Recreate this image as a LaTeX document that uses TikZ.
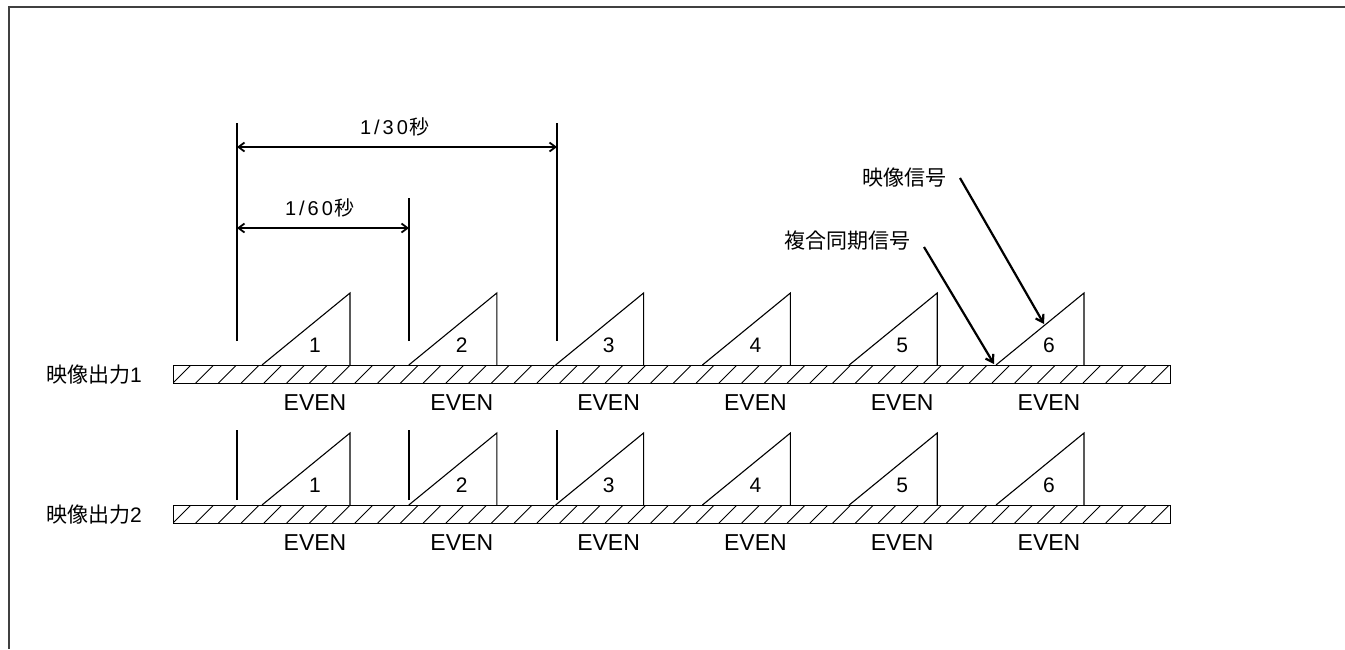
\documentclass[tikz,border=0pt]{standalone}
\usepackage{fontspec}
\setmainfont{Liberation Sans}
\newfontfamily\cjk{Noto Sans CJK JP}
\usetikzlibrary{arrows.meta}
\tikzset{
  frameline/.style={draw=black!75, line width=2pt},
  thin/.style={draw=black, line width=1.1pt},
  hatchline/.style={draw=black, line width=1pt},
  dimarrow/.style={draw=black, line width=1.8pt, {Straight Barb[length=6pt,width=9pt]}-{Straight Barb[length=6pt,width=9pt]}},
  sigarrow/.style={draw=black, line width=2.2pt, -{Straight Barb[length=7pt,width=9pt]}},
  numtxt/.style={inner sep=0pt, font=\fontsize{21}{24}\selectfont},
  eventxt/.style={inner sep=0pt, font=\fontsize{23}{26}\selectfont},
  cjktxt/.style={inner sep=0pt, font=\fontsize{21}{24}\selectfont\cjk},
  dimtxt/.style={inner sep=0pt, font=\fontsize{20}{24}\selectfont},
}
\begin{document}
\begin{tikzpicture}[x=1pt,y=-1pt]
\useasboundingbox (0,0) rectangle (1345,649);
% frame (top and left)
\draw[frameline] (1345,7) -- (8.5,7) -- (8.5,649);

% two hatched bars with triangles
\foreach \r/\by in {1/365,2/505}{
  \begin{scope}
    \clip (173,\by) rectangle (1170,{\by+18});
    \foreach \i in {-1,...,44}{
      \draw[hatchline] ({173+\i*22.75},{\by+18}) -- ++(18,-18);
    }
  \end{scope}
  \node[draw=black, line width=1.1pt, minimum width=997pt, minimum height=18pt, inner sep=0pt, anchor=north west] (bar\r) at (173,\by) {};
  \foreach \k in {0,...,5}{
    \pgfmathsetmacro{\rx}{350+\k*146.8}
    \pgfmathtruncatemacro{\kk}{\k+1}
    \draw[thin] ({\rx-88},\by) -- (\rx,{\by-72}) -- (\rx,\by);
    \coordinate (t\r\kk) at ({\rx-88},\by);
    \node[numtxt] (n\r\kk) at ({\rx-35},{\by-20}) {\kk};
    \node[eventxt] (e\r\kk) at ({\rx-35},{\by+38}) {EVEN};
  }
}

% row labels
\node[cjktxt] (lab1) at (94,375) {映像出力\rmfamily 1};
\node[cjktxt] (lab2) at (94,515) {映像出力\rmfamily 2};

% vertical marker lines, row 1
\coordinate (v1b) at (237,341); \coordinate (v1t) at (237,123);
\coordinate (v2b) at (409,341); \coordinate (v2t) at (409,198);
\coordinate (v3b) at (557,341); \coordinate (v3t) at (557,123);
\draw[thin] (v1b) -- (v1t);
\draw[thin] (v2b) -- (v2t);
\draw[thin] (v3b) -- (v3t);
% vertical marker lines, row 2
\coordinate (w1b) at (237,500); \coordinate (w1t) at (237,430);
\coordinate (w2b) at (409,500); \coordinate (w2t) at (409,430);
\coordinate (w3b) at (557,500); \coordinate (w3t) at (557,430);
\draw[thin] (w1b) -- (w1t);
\draw[thin] (w2b) -- (w2t);
\draw[thin] (w3b) -- (w3t);

% dimension arrows
\coordinate (d30l) at (237,147); \coordinate (d30r) at (557,147);
\coordinate (d60l) at (237,228); \coordinate (d60r) at (409,228);
\draw[dimarrow] (d30l) -- (d30r);
\draw[dimarrow] (d60l) -- (d60r);
\node[dimtxt] (l30) at (395,127) {1\hspace{3pt}/\hspace{3pt}3\hspace{3pt}0\hspace{2pt}{\cjk 秒}};
\node[dimtxt] (l60) at (320,208) {1\hspace{3pt}/\hspace{3pt}6\hspace{3pt}0\hspace{2pt}{\cjk 秒}};

% signal labels and arrows
\node[cjktxt] (sig) at (904,178) {映像信号};
\node[cjktxt] (sync) at (847,241) {複合同期信号};
\coordinate (sigs) at (960,178);
\coordinate (sige) at (1044,324);
\coordinate (syncs) at (924,247);
\coordinate (synce) at (994,364);
\draw[sigarrow] (sigs) -- (sige);
\draw[sigarrow] (syncs) -- (synce);
\end{tikzpicture}
\end{document}
